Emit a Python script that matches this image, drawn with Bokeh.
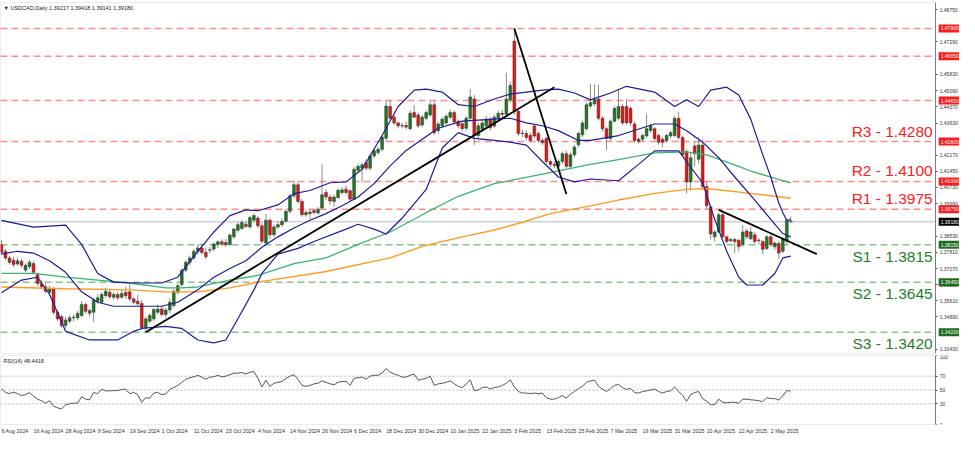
from bokeh.plotting import figure
from bokeh.models import (Range1d, FixedTicker, Label, ColumnDataSource, NumeralTickFormatter,
                          LinearAxis, BoxAnnotation)
from bokeh.layouts import column
from bokeh.embed import file_html
from bokeh.resources import INLINE

# ---------------- data ----------------
opens = [
1.3815, 1.3785, 1.3755, 1.3745, 1.3728, 1.3740, 1.3700, 1.3715, 1.3730, 1.3680,
1.3640, 1.3625, 1.3600, 1.3615, 1.3510, 1.3490, 1.3450, 1.3470, 1.3485, 1.3485,
1.3495, 1.3545, 1.3505, 1.3510, 1.3560, 1.3555, 1.3585, 1.3600, 1.3578, 1.3590,
1.3578, 1.3600, 1.3602, 1.3570, 1.3560, 1.3550, 1.3440, 1.3470, 1.3480, 1.3510,
1.3525, 1.3500, 1.3520, 1.3540, 1.3600, 1.3635, 1.3700, 1.3735, 1.3755, 1.3785,
1.3800, 1.3780, 1.3792, 1.3795, 1.3815, 1.3828, 1.3825, 1.3815, 1.3850, 1.3880,
1.3888, 1.3907, 1.3895, 1.3925, 1.3935, 1.3900, 1.3822, 1.3925, 1.3860, 1.3895,
1.3905, 1.3920, 1.3965, 1.4035, 1.4085, 1.4010, 1.3950, 1.3962, 1.3968, 1.3958,
1.3980, 1.4050, 1.4030, 1.4010, 1.4028, 1.4050, 1.4065, 1.4058, 1.4020, 1.4150,
1.4160, 1.4185, 1.4160, 1.4215, 1.4230, 1.4245, 1.4295, 1.4438, 1.4390, 1.4364,
1.4350, 1.4352, 1.4338, 1.4411, 1.4400, 1.4355, 1.4385, 1.4400, 1.4446, 1.4329,
1.4351, 1.4364, 1.4390, 1.4411, 1.4372, 1.4360, 1.4340, 1.4385, 1.4472, 1.4307,
1.4335, 1.4351, 1.4381, 1.4350, 1.4385, 1.4407, 1.4403, 1.4468, 1.4733, 1.4416,
1.4316, 1.4316, 1.4307, 1.4350, 1.4316, 1.4285, 1.4294, 1.4190, 1.4177, 1.4168,
1.4190, 1.4225, 1.4168, 1.4220, 1.4265, 1.4310, 1.4338, 1.4440, 1.4450, 1.4472,
1.4385, 1.4338, 1.4294, 1.4372, 1.4385, 1.4438, 1.4438, 1.4430, 1.4359, 1.4290,
1.4290, 1.4305, 1.4330, 1.4338, 1.4307, 1.4290, 1.4285, 1.4305, 1.4307, 1.4385,
1.4298, 1.4234, 1.4098, 1.4260, 1.4200, 1.4264, 1.4077, 1.3985, 1.3850, 1.3872,
1.3950, 1.3850, 1.3832, 1.3838, 1.3835, 1.3816, 1.3876, 1.3842, 1.3859, 1.3835,
1.3829, 1.3798, 1.3850, 1.3805, 1.3820, 1.3785, 1.3829, 1.39217,
]
highs = [
1.3835, 1.3795, 1.3765, 1.3760, 1.3755, 1.3750, 1.3730, 1.3745, 1.3740, 1.3690,
1.3655, 1.3640, 1.3630, 1.3625, 1.3520, 1.3500, 1.3490, 1.3495, 1.3500, 1.3515,
1.3560, 1.3555, 1.3525, 1.3575, 1.3590, 1.3600, 1.3620, 1.3615, 1.3600, 1.3600,
1.3610, 1.3625, 1.3635, 1.3580, 1.3590, 1.3565, 1.3490, 1.3505, 1.3530, 1.3545,
1.3540, 1.3530, 1.3570, 1.3615, 1.3640, 1.3710, 1.3745, 1.3765, 1.3795, 1.3815,
1.3820, 1.3800, 1.3805, 1.3825, 1.3835, 1.3840, 1.3840, 1.3865, 1.3890, 1.3915,
1.3925, 1.3920, 1.3945, 1.3955, 1.3945, 1.3915, 1.3955, 1.3935, 1.3905, 1.3920,
1.3935, 1.3975, 1.4045, 1.4105, 1.4095, 1.4020, 1.3970, 1.3975, 1.3975, 1.3985,
1.4177, 1.4065, 1.4040, 1.4040, 1.4070, 1.4075, 1.4080, 1.4065, 1.4165, 1.4180,
1.4185, 1.4200, 1.4225, 1.4250, 1.4255, 1.4310, 1.4467, 1.4467, 1.4400, 1.4370,
1.4365, 1.4370, 1.4420, 1.4446, 1.4410, 1.4400, 1.4420, 1.4460, 1.4460, 1.4370,
1.4390, 1.4405, 1.4425, 1.4420, 1.4380, 1.4370, 1.4395, 1.4516, 1.4490, 1.4365,
1.4375, 1.4395, 1.4390, 1.4400, 1.4420, 1.4425, 1.4590, 1.4550, 1.4793, 1.4425,
1.4335, 1.4330, 1.4320, 1.4360, 1.4325, 1.4295, 1.4300, 1.4200, 1.4190, 1.4200,
1.4235, 1.4240, 1.4230, 1.4265, 1.4325, 1.4375, 1.4455, 1.4538, 1.4538, 1.4535,
1.4395, 1.4345, 1.4380, 1.4440, 1.4512, 1.4450, 1.4472, 1.4440, 1.4370, 1.4300,
1.4315, 1.4403, 1.4360, 1.4345, 1.4315, 1.4300, 1.4315, 1.4330, 1.4395, 1.4415,
1.4305, 1.4245, 1.4230, 1.4280, 1.4300, 1.4290, 1.4100, 1.3995, 1.3880, 1.3958,
1.3968, 1.3855, 1.3845, 1.3845, 1.3840, 1.3903, 1.3885, 1.3894, 1.3870, 1.3845,
1.3835, 1.3860, 1.3860, 1.3830, 1.3830, 1.3850, 1.3935, 1.39418,
]
lows = [
1.3770, 1.3745, 1.3725, 1.3715, 1.3720, 1.3712, 1.3690, 1.3705, 1.3680, 1.3630,
1.3615, 1.3595, 1.3590, 1.3500, 1.3470, 1.3440, 1.3437, 1.3460, 1.3470, 1.3475,
1.3490, 1.3505, 1.3490, 1.3465, 1.3550, 1.3550, 1.3575, 1.3570, 1.3565, 1.3565,
1.3570, 1.3570, 1.3560, 1.3545, 1.3540, 1.3430, 1.3420, 1.3460, 1.3470, 1.3500,
1.3490, 1.3485, 1.3505, 1.3530, 1.3590, 1.3625, 1.3690, 1.3720, 1.3745, 1.3770,
1.3770, 1.3750, 1.3775, 1.3785, 1.3800, 1.3810, 1.3805, 1.3810, 1.3840, 1.3870,
1.3880, 1.3890, 1.3885, 1.3915, 1.3890, 1.3820, 1.3815, 1.3840, 1.3850, 1.3885,
1.3895, 1.3915, 1.3955, 1.4025, 1.4000, 1.3940, 1.3940, 1.3930, 1.3950, 1.3950,
1.3975, 1.4015, 1.3995, 1.3985, 1.4020, 1.4040, 1.4040, 1.4010, 1.4015, 1.4140,
1.4095, 1.4150, 1.4150, 1.4205, 1.4220, 1.4235, 1.4285, 1.4375, 1.4355, 1.4340,
1.4340, 1.4335, 1.4330, 1.4385, 1.4340, 1.4345, 1.4375, 1.4390, 1.4310, 1.4315,
1.4340, 1.4355, 1.4380, 1.4360, 1.4340, 1.4325, 1.4330, 1.4375, 1.4264, 1.4295,
1.4325, 1.4340, 1.4330, 1.4340, 1.4375, 1.4385, 1.4395, 1.4455, 1.4400, 1.4305,
1.4300, 1.4285, 1.4275, 1.4295, 1.4275, 1.4265, 1.4180, 1.4165, 1.4160, 1.4155,
1.4180, 1.4160, 1.4160, 1.4210, 1.4255, 1.4300, 1.4330, 1.4430, 1.4440, 1.4375,
1.4325, 1.4242, 1.4285, 1.4365, 1.4375, 1.4355, 1.4355, 1.4350, 1.4275, 1.4270,
1.4280, 1.4295, 1.4320, 1.4285, 1.4265, 1.4255, 1.4275, 1.4295, 1.4300, 1.4290,
1.4210, 1.4046, 1.4059, 1.4170, 1.4180, 1.4060, 1.3975, 1.3837, 1.3829, 1.3865,
1.3845, 1.3820, 1.3828, 1.3777, 1.3785, 1.3805, 1.3840, 1.3835, 1.3820, 1.3818,
1.3772, 1.3790, 1.3805, 1.3790, 1.3750, 1.3775, 1.3815, 1.39141,
]
closes = [
1.3780, 1.3755, 1.3735, 1.3725, 1.3742, 1.3722, 1.3722, 1.3735, 1.3690, 1.3640,
1.3625, 1.3605, 1.3615, 1.3510, 1.3480, 1.3450, 1.3475, 1.3485, 1.3488, 1.3505,
1.3545, 1.3515, 1.3518, 1.3565, 1.3575, 1.3590, 1.3605, 1.3580, 1.3590, 1.3575,
1.3595, 1.3585, 1.3570, 1.3555, 1.3548, 1.3440, 1.3480, 1.3495, 1.3522, 1.3525,
1.3500, 1.3520, 1.3555, 1.3605, 1.3630, 1.3700, 1.3735, 1.3755, 1.3785, 1.3800,
1.3780, 1.3760, 1.3790, 1.3818, 1.3828, 1.3818, 1.3815, 1.3858, 1.3885, 1.3905,
1.3915, 1.3897, 1.3937, 1.3946, 1.3900, 1.3830, 1.3925, 1.3860, 1.3895, 1.3905,
1.3920, 1.3965, 1.4035, 1.4085, 1.4010, 1.3950, 1.3960, 1.3955, 1.3960, 1.3975,
1.4040, 1.4030, 1.4012, 1.4030, 1.4060, 1.4062, 1.4050, 1.4020, 1.4155, 1.4168,
1.4175, 1.4160, 1.4215, 1.4238, 1.4245, 1.4300, 1.4440, 1.4385, 1.4364, 1.4351,
1.4352, 1.4345, 1.4407, 1.4390, 1.4351, 1.4390, 1.4411, 1.4446, 1.4320, 1.4359,
1.4381, 1.4394, 1.4411, 1.4368, 1.4351, 1.4338, 1.4385, 1.4481, 1.4307, 1.4351,
1.4364, 1.4381, 1.4342, 1.4390, 1.4407, 1.4403, 1.4472, 1.4533, 1.4416, 1.4316,
1.4318, 1.4298, 1.4285, 1.4305, 1.4285, 1.4275, 1.4190, 1.4177, 1.4172, 1.4190,
1.4225, 1.4168, 1.4220, 1.4255, 1.4316, 1.4364, 1.4446, 1.4455, 1.4470, 1.4385,
1.4338, 1.4294, 1.4372, 1.4429, 1.4438, 1.4364, 1.4364, 1.4364, 1.4285, 1.4280,
1.4307, 1.4338, 1.4351, 1.4294, 1.4277, 1.4277, 1.4307, 1.4320, 1.4385, 1.4298,
1.4220, 1.4098, 1.4207, 1.4225, 1.4264, 1.4077, 1.3990, 1.3863, 1.3872, 1.3950,
1.3850, 1.3829, 1.3838, 1.3829, 1.3807, 1.3872, 1.3850, 1.3872, 1.3829, 1.3833,
1.3794, 1.3850, 1.3816, 1.3822, 1.3777, 1.3840, 1.3924, 1.39180,
]
rsi = [
52.0, 46.4, 44.7, 46.9, 44.7, 42.0, 43.3, 46.4, 41.0, 36.7,
34.4, 30.9, 34.4, 26.4, 24.2, 22.4, 28.7, 30.0, 30.9, 30.9,
40.2, 36.7, 35.8, 46.4, 44.7, 51.3, 48.7, 48.7, 49.1, 49.1,
50.9, 51.3, 44.7, 46.4, 43.3, 32.2, 38.9, 38.0, 45.6, 46.4,
43.3, 44.2, 50.9, 53.6, 56.7, 61.1, 65.6, 67.8, 69.1, 71.3,
68.7, 65.6, 68.7, 69.1, 71.3, 69.1, 70.0, 72.2, 74.4, 74.4,
75.3, 73.1, 75.8, 76.7, 66.9, 54.4, 64.2, 55.3, 59.8, 61.1,
62.4, 66.9, 70.0, 72.2, 65.6, 56.7, 55.3, 56.7, 58.9, 59.8,
63.3, 61.1, 58.9, 57.6, 61.1, 62.4, 62.4, 56.7, 66.9, 67.8,
68.7, 65.6, 70.0, 71.3, 71.3, 74.4, 81.1, 75.8, 73.1, 71.3,
68.7, 68.7, 71.3, 73.1, 64.2, 65.6, 66.9, 70.0, 56.7, 58.9,
59.8, 61.1, 63.3, 58.9, 55.3, 53.6, 58.9, 64.2, 49.1, 50.0,
53.6, 54.4, 51.3, 53.6, 54.4, 56.7, 59.8, 64.7, 54.4, 47.8,
45.6, 45.6, 44.7, 45.6, 44.7, 45.6, 38.9, 36.7, 36.7, 38.9,
42.0, 38.0, 44.2, 47.8, 52.2, 55.3, 61.1, 63.3, 64.2, 55.3,
51.3, 47.8, 52.2, 56.7, 58.0, 53.6, 50.9, 52.2, 46.4, 45.6,
47.8, 48.7, 50.0, 51.3, 47.8, 45.6, 47.8, 48.7, 54.4, 47.8,
42.4, 33.6, 43.3, 46.4, 47.8, 37.6, 33.6, 28.7, 28.7, 36.7,
32.2, 31.3, 32.2, 32.2, 30.9, 36.7, 36.7, 35.8, 35.3, 34.4,
33.1, 38.9, 37.6, 37.6, 35.3, 42.0, 49.1, 48.44,
]

# Bollinger bands (20,2) and moving averages, read as (bar index, price) points
bb_upper_idx = [0, 8, 16, 20, 24, 28, 32, 40, 44, 49, 53, 57, 61, 64, 69, 73, 77, 82, 86, 90, 95, 99, 103, 106,
                110, 114, 118, 123, 127, 135, 139, 143, 147, 152, 156, 163, 168, 171, 174, 177, 181, 184, 187,
                190, 192, 193, 194, 195, 196, 197]
bb_upper = [1.3924, 1.3894, 1.3903, 1.3816, 1.3685, 1.3646, 1.3642, 1.3642, 1.3668, 1.3785, 1.3872, 1.3946,
            1.3972, 1.3968, 1.3994, 1.4045, 1.4059, 1.4094, 1.4098, 1.4155, 1.4307, 1.4438, 1.4512, 1.4516,
            1.4503, 1.4446, 1.4438, 1.4472, 1.4494, 1.4512, 1.4516, 1.4499, 1.4468, 1.4499, 1.4529, 1.4503,
            1.4438, 1.4468, 1.4438, 1.4512, 1.4525, 1.4490, 1.4381, 1.4220, 1.4120, 1.4060, 1.4003, 1.3960,
            1.3924, 1.3929]
bb_mid_idx = [0, 4, 8, 12, 16, 20, 24, 28, 40, 44, 49, 53, 57, 61, 65, 69, 73, 77, 81, 85, 89, 93, 97, 101,
              105, 109, 115, 123, 127, 131, 135, 139, 144, 147, 154, 163, 168, 171, 175, 179, 183, 188, 192,
              195, 197]
bb_mid = [1.3772, 1.3785, 1.3777, 1.3742, 1.3690, 1.3602, 1.3555, 1.3537, 1.3537, 1.3555, 1.3611, 1.3668,
          1.3707, 1.3742, 1.3803, 1.3850, 1.3890, 1.3925, 1.3955, 1.3990, 1.4030, 1.4090, 1.4170, 1.4240,
          1.4290, 1.4340, 1.4372, 1.4381, 1.4385, 1.4364, 1.4351, 1.4329, 1.4285, 1.4285, 1.4307, 1.4359,
          1.4359, 1.4329, 1.4277, 1.4207, 1.4120, 1.4016, 1.3929, 1.3865, 1.3850]
bb_lower_idx = [0, 5, 9, 12, 16, 22, 29, 33, 35, 41, 45, 49, 53, 56, 59, 63, 65, 69, 74, 78, 86, 89, 93, 96,
                100, 106, 110, 114, 118, 123, 127, 131, 135, 139, 143, 147, 154, 159, 163, 169, 172, 175, 178,
                181, 184, 186, 190, 193, 195, 197]
bb_lower = [1.3598, 1.3655, 1.3668, 1.3590, 1.3424, 1.3385, 1.3385, 1.3424, 1.3437, 1.3446, 1.3437, 1.3385,
            1.3372, 1.3385, 1.3481, 1.3611, 1.3685, 1.3772, 1.3798, 1.3829, 1.3885, 1.3907, 1.3885, 1.3863,
            1.3935, 1.4064, 1.4251, 1.4320, 1.4294, 1.4285, 1.4277, 1.4264, 1.4190, 1.4120, 1.4098, 1.4111,
            1.4103, 1.4177, 1.4238, 1.4238, 1.4164, 1.4094, 1.3929, 1.3785, 1.3668, 1.3633, 1.3633, 1.3685,
            1.3755, 1.3763]
ma_green_idx = [0, 8, 16, 24, 32, 41, 45, 49, 57, 64, 73, 81, 89, 97, 106, 114, 123, 135, 147, 154, 163, 171,
                176, 184, 187, 192, 197]
ma_green = [1.3685, 1.3685, 1.3668, 1.3655, 1.3642, 1.3620, 1.3620, 1.3624, 1.3655, 1.3676, 1.3729, 1.3755,
            1.3816, 1.3872, 1.3959, 1.4033, 1.4090, 1.4133, 1.4177, 1.4198, 1.4229, 1.4233, 1.4220, 1.4168,
            1.4146, 1.4120, 1.4094]
ma_orange_idx = [0, 16, 32, 41, 49, 57, 64, 81, 97, 105, 115, 123, 130, 137, 147, 154, 163, 171, 176, 187, 197]
ma_orange = [1.3624, 1.3616, 1.3611, 1.3602, 1.3602, 1.3620, 1.3646, 1.3694, 1.3755, 1.3807, 1.3850, 1.3881,
             1.3916, 1.3955, 1.3990, 1.4016, 1.4046, 1.4064, 1.4068, 1.4046, 1.4024]

# hand-drawn trend lines (bar index, price)
trend_x0 = [36, 128, 179]
trend_y0 = [1.3420, 1.4790, 1.3972]
trend_x1 = [138, 141, 203.5]
trend_y1 = [1.4525, 1.4042, 1.3772]

resist_levels = [1.4790, 1.4665, 1.4465, 1.4280, 1.4100, 1.3975]
support_levels = [1.3815, 1.3645, 1.3420]
current_price = 1.3918
r_names = ["R3 - 1.4280", "R2 - 1.4100", "R1 - 1.3975"]
r_name_levels = [1.4280, 1.4100, 1.3975]
s_names = ["S1 - 1.3815", "S2 - 1.3645", "S3 - 1.3420"]
s_name_levels = [1.3815, 1.3645, 1.3420]

price_ticks = [1.48750, 1.47290, 1.45830, 1.45090, 1.44370, 1.43630, 1.42170, 1.41450, 1.40730,
               1.39990, 1.38530, 1.37810, 1.37070, 1.36350, 1.35610, 1.34890, 1.33430]
rsi_ticks = [0, 30, 50, 70, 100]
rsi_guides = [30, 50, 70]
date_labels = ["6 Aug 2024", "16 Aug 2024", "28 Aug 2024", "9 Sep 2024", "19 Sep 2024", "1 Oct 2024",
               "11 Oct 2024", "23 Oct 2024", "4 Nov 2024", "14 Nov 2024", "26 Nov 2024", "6 Dec 2024",
               "18 Dec 2024", "30 Dec 2024", "10 Jan 2025", "22 Jan 2025", "3 Feb 2025", "13 Feb 2025",
               "25 Feb 2025", "7 Mar 2025", "19 Mar 2025", "31 Mar 2025", "10 Apr 2025", "22 Apr 2025",
               "2 May 2025"]
label_every = 8
title_text = "\u25BC USDCAD,Daily  1.39217 1.39418 1.39141 1.39180"
rsi_title = "RSI(14) 48.4418"

# ---------------- styling ----------------
FONT = "Liberation Sans"
W = 959
X0, X1 = -0.245, 239.1          # frame spans the whole width
AXIS_X = 233.15                 # where the price scale sits
Y0, Y1 = 1.3324, 1.4907
PXU = W / (X1 - X0)             # pixels per bar
FRAME_COL = "#7d7d7d"
BULL, BEAR = "#1f7a1f", "#ee1111"
TICK_FS = "5px"
DATE_FS = 5.3

# approximate Helvetica/Liberation Sans advance widths (per 1000 em) used to left-align date labels
CHAR_W = {" ": 278, "A": 667, "u": 556, "g": 556, "S": 667, "e": 556, "p": 556, "O": 778, "c": 500,
          "t": 278, "N": 722, "o": 556, "v": 500, "D": 722, "J": 500, "a": 556, "n": 556, "F": 611,
          "b": 556, "M": 833, "r": 333, "y": 500}


def text_width(s, fs):
    return sum(CHAR_W.get(ch, 556) for ch in s) / 1000.0 * fs


def style_axis(a):
    a.major_label_text_font_size = TICK_FS
    a.major_label_text_font = FONT
    a.major_label_text_color = "#333333"
    a.axis_line_color = FRAME_COL
    a.major_tick_line_color = "#555555"
    a.major_tick_out = 2
    a.major_tick_in = 0
    a.minor_tick_line_color = None
    a.major_label_standoff = 2


idx = list(range(len(closes)))
src = ColumnDataSource(dict(
    i=idx, o=opens, h=highs, l=lows, c=closes,
    top=[max(a, b) for a, b in zip(opens, closes)],
    bot=[min(a, b) for a, b in zip(opens, closes)],
    col=[BULL if c >= o else BEAR for o, c in zip(opens, closes)],
))

p1 = figure(width=W, height=354, x_range=Range1d(X0, X1), y_range=Range1d(Y0, Y1),
            output_backend="svg", toolbar_location=None, x_axis_location=None, y_axis_location=None,
            min_border_left=0, min_border_right=0, min_border_top=2, min_border_bottom=1)
p1.grid.visible = False
p1.outline_line_color = None
yax = LinearAxis(fixed_location=AXIS_X, ticker=FixedTicker(ticks=price_ticks),
                 formatter=NumeralTickFormatter(format="0.00000"))
style_axis(yax)
p1.add_layout(yax, "right")
p1.add_layout(BoxAnnotation(left=X0, right=AXIS_X, fill_color=None, fill_alpha=0,
                            line_color=FRAME_COL, line_width=1))

n_r, n_s = len(resist_levels), len(support_levels)
p1.segment(x0=[X0] * n_r, x1=[AXIS_X] * n_r, y0=resist_levels, y1=resist_levels,
           line_color="#ff8c8c", line_width=1.5, line_dash="7 4")
p1.segment(x0=[X0] * n_s, x1=[AXIS_X] * n_s, y0=support_levels, y1=support_levels,
           line_color="#8cc08c", line_width=1.5, line_dash="7 4")
p1.segment(x0=[X0], x1=[AXIS_X], y0=[current_price], y1=[current_price], line_color="#b4bccb", line_width=1)

p1.segment(x0="i", y0="l", x1="i", y1="h", source=src, line_color="#8a8a8a", line_width=1)
p1.vbar(x="i", width=0.7, top="top", bottom="bot", source=src, fill_color="col",
        line_color="#333333", line_width=0.5)

p1.line(ma_orange_idx, ma_orange, line_color="#ff9a1f", line_width=1.4)
p1.line(ma_green_idx, ma_green, line_color="#3cb371", line_width=1.3)
p1.line(bb_upper_idx, bb_upper, line_color="#1c1c9a", line_width=1.2)
p1.line(bb_mid_idx, bb_mid, line_color="#1c1c9a", line_width=1.2)
p1.line(bb_lower_idx, bb_lower, line_color="#1c1c9a", line_width=1.2)
p1.segment(x0=trend_x0, y0=trend_y0, x1=trend_x1, y1=trend_y1, line_color="black", line_width=1.8)

for name, lv in zip(r_names, r_name_levels):
    p1.add_layout(Label(x=AXIS_X, y=lv, x_offset=-3, y_offset=2, text=name, text_align="right",
                        text_baseline="bottom", text_font=FONT, text_font_size="15.5px",
                        text_color="#ff2020"))
for name, lv in zip(s_names, s_name_levels):
    p1.add_layout(Label(x=AXIS_X, y=lv, x_offset=-3, y_offset=-3, text=name, text_align="right",
                        text_baseline="top", text_font=FONT, text_font_size="15.5px",
                        text_color="#1f7f1f"))

box_levels = resist_levels + [current_price] + support_levels
box_colors = ["#ff1a1a"] * n_r + ["#000000"] + ["#1d6b1d"] * n_s
for lv, bc in zip(box_levels, box_colors):
    p1.add_layout(Label(x=AXIS_X, y=lv, x_offset=3, text="%.5f" % lv, text_align="left",
                        text_baseline="middle", text_font=FONT, text_font_size=TICK_FS,
                        text_color="white", background_fill_color=bc, padding=2))

p1.add_layout(Label(x=X0, y=Y1, x_offset=3, y_offset=-2, text=title_text, text_baseline="top",
                    text_font=FONT, text_font_size="5.5px", text_color="#222222"))

# ---------------- RSI panel ----------------
p2 = figure(width=W, height=82, x_range=p1.x_range, y_range=Range1d(0, 100),
            output_backend="svg", toolbar_location=None, x_axis_location="below", y_axis_location=None,
            min_border_left=0, min_border_right=0, min_border_top=1, min_border_bottom=10)
p2.grid.visible = False
p2.outline_line_color = None
ry = LinearAxis(fixed_location=AXIS_X, ticker=FixedTicker(ticks=rsi_ticks))
style_axis(ry)
p2.add_layout(ry, "right")
p2.add_layout(BoxAnnotation(left=X0, right=AXIS_X, fill_color=None, fill_alpha=0,
                            line_color=FRAME_COL, line_width=1))
n_g = len(rsi_guides)
p2.segment(x0=[X0] * n_g, x1=[AXIS_X] * n_g, y0=rsi_guides, y1=rsi_guides,
           line_color="#b8b8b8", line_width=1, line_dash="2 2")
p2.line(idx, rsi, line_color="#555555", line_width=1)

# date labels: the axis centres its labels, so each tick is moved right by half its label width
axx = p2.xaxis[0]
tick_pos = [round(k * label_every + text_width(lab, DATE_FS) / 2.0 / PXU, 4)
            for k, lab in enumerate(date_labels)]
axx.ticker = FixedTicker(ticks=tick_pos)
axx.major_label_overrides = {t: s for t, s in zip(tick_pos, date_labels)}
style_axis(axx)
axx.major_label_text_font_size = "%spx" % DATE_FS
axx.axis_line_color = None
axx.major_tick_line_color = None
axx.major_tick_out = 2
axx.major_label_standoff = 1

p2.add_layout(Label(x=X0, y=100, x_offset=3, y_offset=-2, text=rsi_title, text_baseline="top",
                    text_font=FONT, text_font_size="5.5px", text_color="#222222"))

layout = column(p1, p2, spacing=0)
open("out.html", "w").write(file_html(layout, INLINE))
